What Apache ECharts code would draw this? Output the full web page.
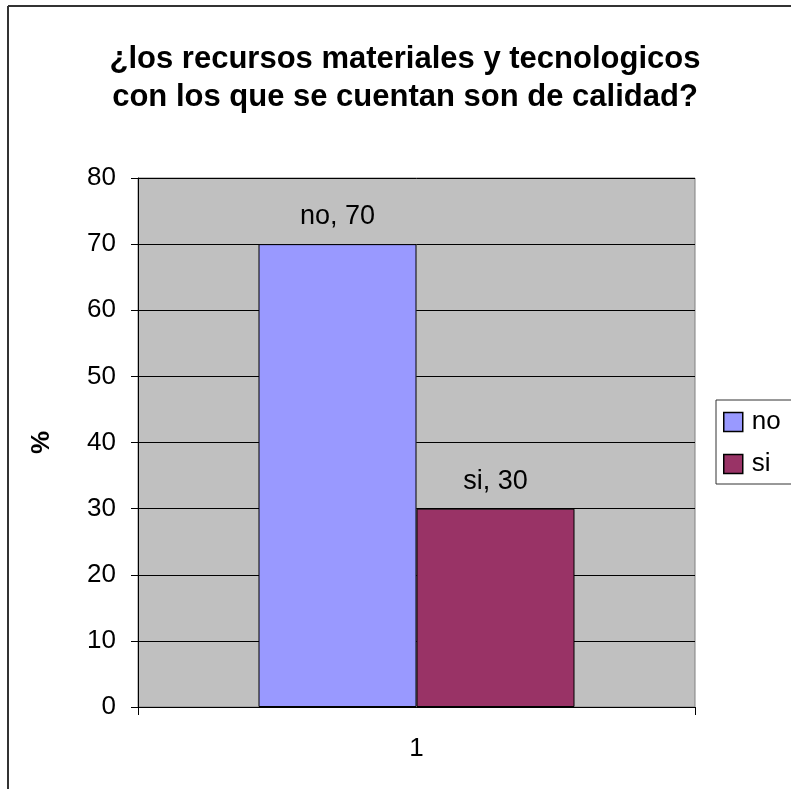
<!DOCTYPE html>
<html>
<head>
<meta charset="utf-8">
<script src="https://cdn.jsdelivr.net/npm/echarts@6/dist/echarts.min.js"></script>
<style>
  html, body { margin: 0; padding: 0; background: #fff; }
  #main { width: 791px; height: 789px; }
</style>
</head>
<body>
<div id="main"></div>
<script>
const categories = ['1'];
const seriesNames = ['no', 'si'];
const noValues = [70];
const siValues = [30];
const colors = ['#9999FF', '#993366'];

const chart = echarts.init(document.getElementById('main'), null, { renderer: 'canvas' });
const font = 'Liberation Sans, Arial, sans-serif';

chart.setOption({
  animation: false,
  color: colors,
  textStyle: { fontFamily: font },
  title: {
    text: '¿los recursos materiales y tecnologicos\ncon los que se cuentan son de calidad?',
    left: 400,
    textAlign: 'center',
    top: 35,
    textStyle: { fontSize: 31, fontWeight: 'bold', lineHeight: 38, color: '#000', fontFamily: font }
  },
  // chart-area frame (only the top and left edges are visible)
  graphic: [
    { type: 'line', shape: { x1: 8, y1: 6, x2: 791, y2: 6 }, style: { stroke: '#333', lineWidth: 2 } },
    { type: 'line', shape: { x1: 8, y1: 6, x2: 8, y2: 789 }, style: { stroke: '#333', lineWidth: 2 } }
  ],
  legend: {
    orient: 'vertical',
    left: 716,
    top: 400,
    padding: [9, 30, 7, 7],
    itemGap: 16,
    itemWidth: 19,
    itemHeight: 19,
    icon: 'rect',
    itemStyle: { borderColor: '#000', borderWidth: 1.5 },
    borderColor: '#333',
    borderWidth: 1,
    backgroundColor: '#fff',
    textStyle: { fontSize: 26, color: '#000', padding: [0, 0, 0, 4], fontFamily: font },
    data: seriesNames
  },
  grid: {
    left: 138, top: 178, width: 557, height: 529,
    show: true,
    backgroundColor: '#C0C0C0',
    borderColor: '#808080',
    borderWidth: 1
  },
  xAxis: {
    type: 'category',
    data: categories,
    axisLine: { lineStyle: { color: '#000', width: 1 } },
    axisTick: { show: true, length: 8, lineStyle: { color: '#000' } },
    axisLabel: { fontSize: 26, color: '#000', margin: 29, fontFamily: font }
  },
  yAxis: {
    type: 'value',
    min: 0, max: 80, interval: 10,
    name: '%',
    nameLocation: 'middle',
    nameGap: 83,
    nameTextStyle: { fontSize: 26, fontWeight: 'bold', color: '#000', fontFamily: font },
    axisLine: { show: true, lineStyle: { color: '#000', width: 1 } },
    axisTick: { show: true, length: 7, lineStyle: { color: '#000' } },
    axisLabel: { fontSize: 26, color: '#000', margin: 22, fontFamily: font },
    splitLine: { lineStyle: { color: '#000', width: 1 } }
  },
  series: [
    {
      name: seriesNames[0], type: 'bar', data: noValues,
      barWidth: 158, barGap: '0%',
      itemStyle: { borderColor: '#000', borderWidth: 1 },
      label: { show: true, position: 'top', distance: 14, formatter: '{a}, {c}', fontSize: 27, color: '#000', fontFamily: font }
    },
    {
      name: seriesNames[1], type: 'bar', data: siValues,
      barWidth: 158, barGap: '0%',
      itemStyle: { borderColor: '#000', borderWidth: 1 },
      label: { show: true, position: 'top', distance: 14, formatter: '{a}, {c}', fontSize: 27, color: '#000', fontFamily: font }
    }
  ]
});
</script>
</body>
</html>
